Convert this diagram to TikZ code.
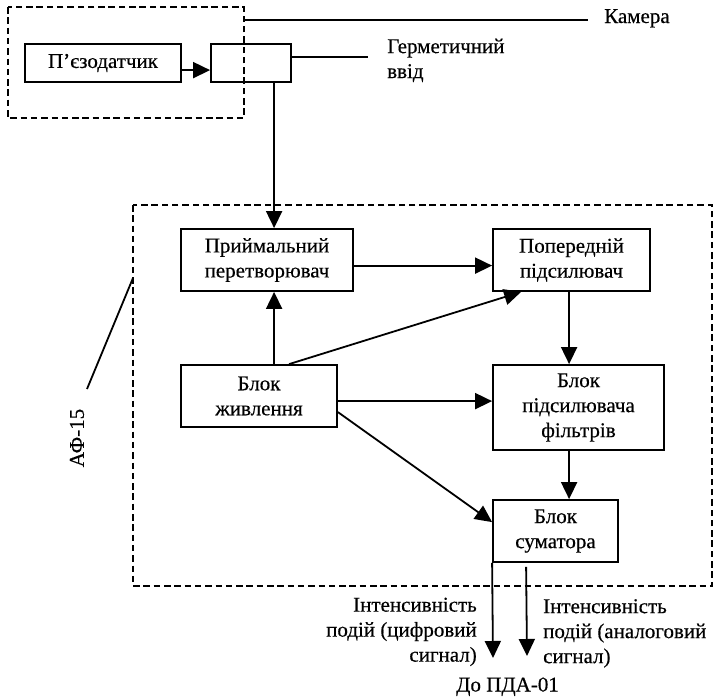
\documentclass[tikz,border=0pt]{standalone}
\usepackage{fontspec}
\setmainfont[FakeBold=0.4]{Liberation Serif}
\usetikzlibrary{arrows.meta,calc}
\begin{document}
\begin{tikzpicture}[x=1pt,y=-1pt,
  box/.style={draw,line width=1.8pt,rectangle,inner sep=0pt,align=center,font=\fontsize{21}{25}\selectfont},
  lbl/.style={inner sep=0pt,font=\fontsize{21}{25}\selectfont},
  arr/.style={line width=1.8pt,-{Triangle[length=17pt,width=16pt]}},
  ln/.style={line width=1.8pt},
  dsh/.style={line width=1.8pt,dash pattern=on 6.5pt off 3.8pt}]
\useasboundingbox (0,0) rectangle (714,696);
% outer dashed boxes
\draw[dsh] (8,7) rectangle (244,118);
\draw[dsh] (133,205) rectangle (712,586);
% nodes
\node[box,minimum width=156pt,minimum height=38pt] (piezo) at (103,63) {П’єзодатчик};
\node[box,minimum width=80pt,minimum height=38pt] (herm) at (251,63) {};
\node[box,minimum width=172pt,minimum height=62pt] (prm) at (267,260) {Приймальний\\перетворювач};
\node[box,minimum width=157pt,minimum height=62pt] (pop) at (571.5,260) {Попередній\\підсилювач};
\node[box,minimum width=156pt,minimum height=62pt] (zhyv) at (259,396) {Блок\\живлення};
\node[box,minimum width=171pt,minimum height=85pt] (pidf) at (578.5,407.5) {Блок\\підсилювача\\фільтрів};
\node[box,minimum width=125pt,minimum height=62pt] (sum) at (555.5,531) {Блок\\суматора};
% labels
\coordinate (camA) at (244,20);
\coordinate (camB) at (588,20);
\node[lbl,anchor=base west] (cam) at (604,23) {Камера};
\coordinate (hermB) at (368,57);
\node[lbl,anchor=north west,align=left] (hermlbl) at (387,38.5) {Герметичний\\ввід};
\node[lbl,rotate=90] (af) at (77,438) {АФ-15};
\coordinate (afA) at (87,389);
\coordinate (afB) at (133,278);
\node[lbl,anchor=north east,align=right] (dig) at (477,597.5) {Інтенсивність\\подій (цифровий\\сигнал)};
\node[lbl,anchor=north west,align=left] (ana) at (543,599) {Інтенсивність\\подій (аналоговий\\сигнал)};
\node[lbl,anchor=base] (pda) at (507.5,691.5) {До ПДА-01};
\coordinate (digEnd) at (493,658);
\coordinate (anaEnd) at (527,656);
\coordinate (pidfIn) at ($(pidf.north west)+(0,37)$);
\coordinate (popIn) at ($(pop.north west)+(0,37.5)$);
\coordinate (sumIn) at ($(sum.north west)+(0,23)$);
% connectors
\draw[ln] (camA) -- (camB);
\draw[ln] (herm.east |- hermB) -- (hermB);
\draw[ln] (afA) -- (afB);
\draw[arr] ($(piezo.north east)+(0,27)$) -- ($(herm.north west)+(0,27)$);
\draw[arr] ($(herm.south west)+(64,0)$) -- ($(prm.north west)+(94,0)$);
\draw[arr] (prm.east |- popIn) -- (popIn);
\draw[arr] ($(zhyv.north west)+(94,0)$) -- ($(prm.south west)+(94,0)$);
\draw[arr] ($(zhyv.north west)+(109,0)$) -- ($(pop.south west)+(29,0)$);
\draw[arr] (zhyv.east |- pidfIn) -- (pidfIn);
\draw[arr] ($(zhyv.north east)+(0,48)$) -- (sumIn);
\draw[arr] ($(pop.south west)+(77,0)$) -- ($(pidf.north west)+(77,0)$);
\draw[arr] ($(pidf.south west)+(77,0)$) -- ($(sum.north west)+(77,0)$);
\draw[arr] (sum.south west) -- (digEnd);
\draw[arr] ($(sum.south west)+(34,4)$) -- (anaEnd);
\end{tikzpicture}
\end{document}
